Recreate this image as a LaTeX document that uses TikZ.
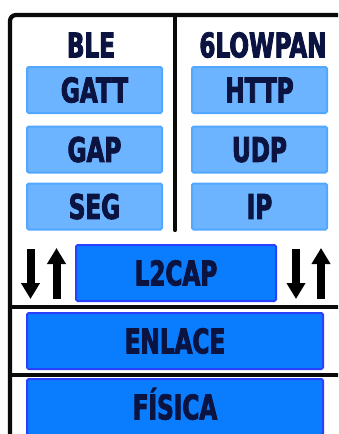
\documentclass[tikz,border=0pt]{standalone}
\usepackage{fontspec}
\usetikzlibrary{arrows.meta}
\newfontfamily\labfont[FakeStretch=0.68, FakeBold=2.5]{DejaVu Sans Bold}
\definecolor{lightfill}{HTML}{6CB4FF}
\definecolor{lightline}{HTML}{52A8FF}
\definecolor{darkfill}{HTML}{0A7DFF}
\definecolor{darkline}{HTML}{2B3FFF}
\definecolor{labcol}{HTML}{0B1340}
\definecolor{framecol}{HTML}{0A0A0A}
\tikzset{
  lab/.style={font=\labfont\fontsize{34}{34}\selectfont, text=labcol, inner sep=0pt, text height=24.8pt, text depth=0pt},
  lightbox/.style={lab, draw=lightline, fill=lightfill, line width=2pt, rounded corners=1.5pt, minimum width=135pt, minimum height=46pt},
  darkbox/.style={lab, draw=darkline, fill=darkfill, line width=2pt, rounded corners=1.5pt, minimum height=56pt},
  frameline/.style={draw=framecol, line width=4.2pt},
  bigarrow/.style={draw=black, line width=8pt, -{Triangle[length=16pt, width=18pt]}, shorten >=-1pt}
}
\begin{document}
\begin{tikzpicture}[x=1pt, y=-1pt]
\useasboundingbox (0,0) rectangle (338,434);
\begin{scope}
\clip (0,0) rectangle (338,434);
% frame
\draw[frameline, rounded corners=6pt] (10,450) -- (10,15) -- (350,15);
\draw[frameline, line cap=round] (175,15) -- (175,230);
\draw[frameline] (10,307) -- (350,307);
\draw[frameline] (10,375) -- (350,375);
% headers
\node[lab] (ble) at (91,45) {BLE};
\node[lab] (lowpan) at (263,45) {6LOWPAN};
% left stack
\node[lightbox] (gatt) at (94.5,90) {GATT};
\node[lightbox] (gap) at (94.5,149.5) {GAP};
\node[lightbox] (seg) at (94.5,206.5) {SEG};
% right stack
\node[lightbox] (http) at (259.5,90) {HTTP};
\node[lightbox] (udp) at (259.5,149.5) {UDP};
\node[lightbox] (ip) at (259.5,206.5) {IP};
% lower layers
\node[darkbox, minimum width=200pt] (l2cap) at (176,273) {L2CAP};
\node[darkbox, minimum width=296pt] (enlace) at (175,341) {ENLACE};
\node[darkbox, minimum width=296pt] (fisica) at (175,407) {FÍSICA};
% arrows
\coordinate (ld1) at (30.5,249);
\coordinate (ld2) at (30.5,298);
\coordinate (lu1) at (56.5,299);
\coordinate (lu2) at (56.5,249);
\coordinate (rd1) at (296,249);
\coordinate (rd2) at (296,298);
\coordinate (ru1) at (321,299);
\coordinate (ru2) at (321,249);
\draw[bigarrow] (ld1) -- (ld2);
\draw[bigarrow] (lu1) -- (lu2);
\draw[bigarrow] (rd1) -- (rd2);
\draw[bigarrow] (ru1) -- (ru2);
\end{scope}
\end{tikzpicture}
\end{document}
